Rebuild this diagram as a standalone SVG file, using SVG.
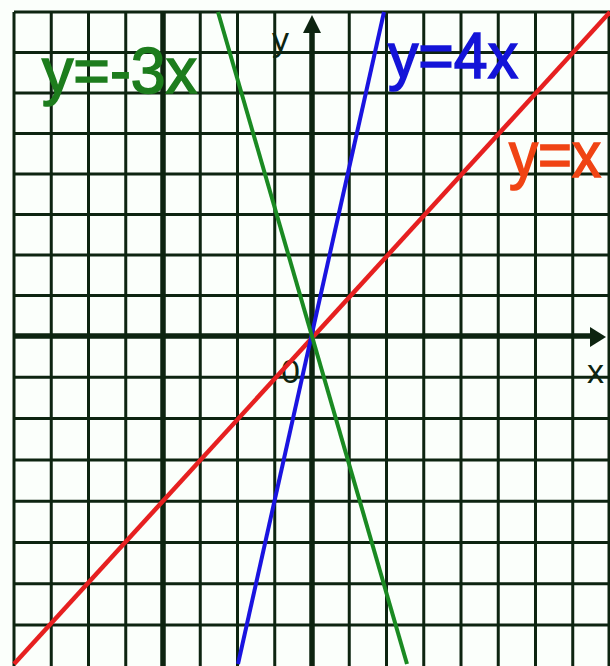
<svg xmlns="http://www.w3.org/2000/svg" width="610" height="666" viewBox="0 0 610 666">
<style>
.g{stroke:#0d2410;stroke-width:3;fill:none}
.t{stroke:#0d2410;stroke-width:5.5;fill:none}
.lbl{font-family:"Liberation Sans",Arial,sans-serif;font-size:64px;stroke-width:1.6}
.sm{font-family:"Liberation Sans",Arial,sans-serif;font-size:34px;fill:#0d2410}
</style>
<rect width="610" height="666" fill="#fbfffb"/>
<g id="grid">
<path class="g" d="M14,12V666M51.25,12V666M88.5,12V666M125.75,12V666M200.25,12V666M237.5,12V666M274.75,12V666M349.25,12V666M386.5,12V666M423.75,12V666M461,12V666M498.25,12V666M535.5,12V666M572.75,12V666M609,12V666"/>
<path class="g" d="M14,12H610M14,52.5H610M14,93H610M14,133.5H610M14,174H610M14,214.5H610M14,255H610M14,295.5H610M14,377.3H610M14,418.6H610M14,460H610M14,501.2H610M14,542.5H610M14,583.8H610M14,625H610"/>
<path class="t" d="M163,12V666"/>
</g>
<g id="axes">
<path class="t" d="M14,336H592"/>
<path class="t" d="M312,666V30"/>
<polygon points="590,327 606,337 590,347" fill="#0d2410"/>
<polygon points="303,33 312,15 321,33" fill="#0d2410"/>
</g>
<g id="axis-labels">
<text class="sm" x="272" y="51">y</text>
<text class="sm" x="587" y="383">x</text>
<text class="sm" x="281" y="383">0</text>
</g>
<g id="connectors">
<line id="line-yx" x1="14" y1="664" x2="610" y2="12" stroke="#e62020" stroke-width="4.5"/>
<line id="line-y4x" x1="238" y1="664" x2="384" y2="12" stroke="#1a14e0" stroke-width="4"/>
<line id="line-y-3x" x1="218" y1="12" x2="407" y2="664" stroke="#1a8a22" stroke-width="4"/>
</g>
<g id="labels">
<text class="lbl" x="42" y="93" fill="#1d7d1d" stroke="#1d7d1d" textLength="155" lengthAdjust="spacingAndGlyphs">y=-3x</text>
<text class="lbl" x="388" y="78" fill="#1414d8" stroke="#1414d8" textLength="130" lengthAdjust="spacingAndGlyphs">y=4x</text>
<text class="lbl" x="509" y="177" fill="#f04414" stroke="#f04414" textLength="92" lengthAdjust="spacingAndGlyphs">y=x</text>
</g>
</svg>
